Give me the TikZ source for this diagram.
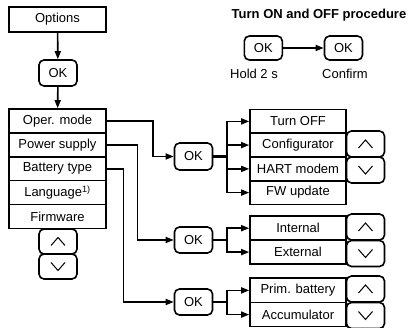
\documentclass[tikz,border=0pt]{standalone}
\usepackage{fontspec}
\setmainfont{Liberation Sans}
\usetikzlibrary{arrows.meta}
\newcommand\myup[1]{\draw[chev] ([shift={(-7pt,-4pt)}]#1.center) -- ([shift={(0pt,4pt)}]#1.center) -- ([shift={(7pt,-4pt)}]#1.center);}
\newcommand\mydown[1]{\draw[chev] ([shift={(-7pt,4pt)}]#1.center) -- ([shift={(0pt,-4pt)}]#1.center) -- ([shift={(7pt,4pt)}]#1.center);}
\begin{document}
\begin{tikzpicture}[x=1pt,y=-1pt, line width=1.6pt,
  font=\fontsize{13}{15}\selectfont,
  row/.style={draw, rectangle, inner sep=0pt, minimum width=97pt, minimum height=23.9pt},
  rrow/.style={draw, rectangle, inner sep=0pt, minimum width=96pt, minimum height=23.75pt},
  okbox/.style={draw, rounded corners=5pt, inner sep=0pt, minimum width=38pt, minimum height=26pt},
  btn/.style={draw, rounded corners=5pt, inner sep=0pt, minimum width=38pt, minimum height=26pt},
  arr/.style={-{Triangle[length=8pt,width=6pt]}},
  chev/.style={line width=1pt}]
\useasboundingbox (0,0) rectangle (410,328);

% title block
\node[font=\bfseries\fontsize{13}{15}\selectfont] (title) at (319,15) {Turn ON and OFF procedure};
\node[okbox, minimum height=24pt] (oka) at (263.3,48) {OK};
\node[okbox, minimum height=24pt] (okb) at (343.5,48) {OK};
\draw[arr] (oka) -- (okb);
\node (hold) at (254,74) {Hold 2 s};
\node (conf) at (345,74) {Confirm};

% left column
\node[row, minimum height=25pt] (opt) at (57.5,19.5) {Options};
\node[okbox] (ok0) at (58,73) {OK};
\node[row] (l1) at (57.5,120.95) {Oper. mode};
\node[row] (l2) at (57.5,144.85) {Power supply};
\node[row] (l3) at (57.5,168.75) {Battery type};
\node[row] (l4) at (57.5,192.65) {Language\textsuperscript{1)}};
\node[row] (l5) at (57.5,216.55) {Firmware};
\node[btn, minimum height=25pt] (lu) at (58,241.5) {};
\node[btn, minimum height=25pt] (ld) at (58,266.5) {};
\myup{lu}
\mydown{ld}
\draw[arr] (opt) -- (ok0);
\draw[arr] (ok0) -- (l1);

% OK nodes
\node[okbox, minimum height=27pt] (ok1) at (193.5,156.5) {OK};
\node[okbox] (ok2) at (193.5,240) {OK};
\node[okbox] (ok3) at (193.5,302) {OK};

\coordinate (j1) at (153,0);
\coordinate (j2) at (137.5,0);
\coordinate (j3) at (123.5,0);
\draw[arr] (l1.east) -- (l1.east -| j1) |- (ok1.west);
\draw[arr] (l2.east) -- (l2.east -| j2) |- (ok2.west);
\draw[arr] (l3.east) -- (l3.east -| j3) |- (ok3.west);

% right group 1
\node[rrow] (r1) at (298,121.4) {Turn OFF};
\node[rrow] (r2) at (298,145.1) {Configurator};
\node[rrow] (r3) at (298,168.9) {HART modem};
\node[rrow] (r4) at (298,192.6) {FW update};
\node[btn] (u1) at (365.5,144) {};
\node[btn] (d1) at (365.5,170) {};
\myup{u1}
\mydown{d1}

% right group 2
\node[rrow, minimum height=23.85pt] (s1) at (298,228.2) {Internal};
\node[rrow, minimum height=23.85pt] (s2) at (298,252.1) {External};
\node[btn] (u2) at (365.5,227) {};
\node[btn] (d2) at (365.5,253.5) {};
\myup{u2}
\mydown{d2}

% right group 3
\node[rrow, minimum height=24.2pt] (t1) at (298,290.4) {Prim. battery};
\node[rrow, minimum height=24.2pt] (t2) at (298,314.6) {Accumulator};
\node[btn] (u3) at (365.5,289) {};
\node[btn] (d3) at (365.5,315.5) {};
\myup{u3}
\mydown{d3}

% fan-outs
\coordinate (bus) at (226.7,0);
\draw[line width=2.4pt] (ok1.east) -- (ok1.east -| bus);
\foreach \r in {r1,r2,r3,r4} \draw[arr] (ok1.east -| bus) |- (\r.west);
\draw (ok2.east) -- (ok2.east -| bus);
\foreach \r in {s1,s2} \draw[arr] (ok2.east -| bus) |- (\r.west);
\draw (ok3.east) -- (ok3.east -| bus);
\foreach \r in {t1,t2} \draw[arr] (ok3.east -| bus) |- (\r.west);
\end{tikzpicture}
\end{document}
